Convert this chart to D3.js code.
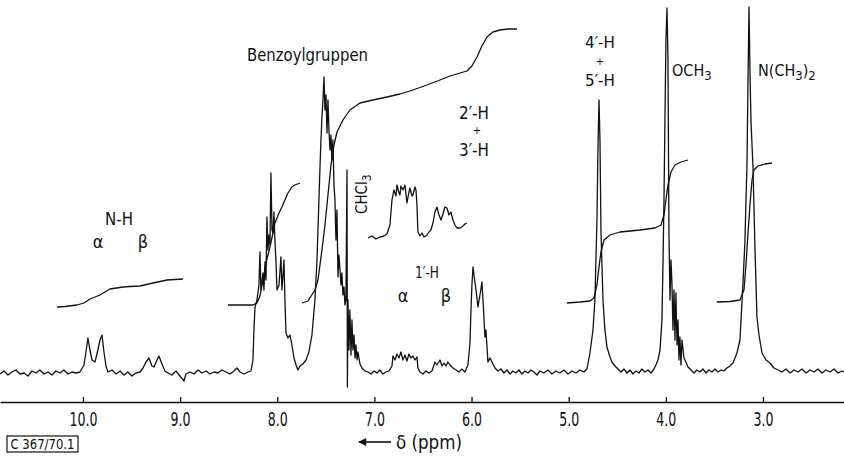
<!DOCTYPE html>
<html>
<head>
<meta charset="utf-8">
<script src="https://cdn.jsdelivr.net/npm/d3@7"></script>
<style>
  body { margin: 0; background: #fff; }
  svg { display: block; background: #fff; }
  text { font-family: "DejaVu Sans Condensed", "DejaVu Sans", sans-serif; font-stretch: condensed; fill: #111; }
</style>
</head>
<body>
<svg id="svg_nmr" width="844" height="457"></svg>
<script>
// chemical shift ticks (ppm)
const tickValues = [10, 9, 8, 7, 6, 5, 4, 3]

// main trace: [ppm, intensity]
const spectrum = [
  [10.854, 0.2], [10.813, 0.8], [10.772, 0], [10.731, 0.6], [10.690, 1.0], [10.649, 0.2], [10.607, 0.4],
  [10.566, -0.2], [10.525, 0.8], [10.484, 0.4], [10.443, 1.0], [10.401, 0.2], [10.360, 0.6], [10.319, 0],
  [10.278, 0.8], [10.237, 0.4], [10.196, 1.0], [10.154, 0.2], [10.113, 0.6], [10.072, 0.4], [10.031, 0.6],
  [9.990, 2.0], [9.969, 4.6], [9.949, 7.4], [9.928, 5.0], [9.907, 3.0], [9.876, 2.6], [9.846, 5.0],
  [9.825, 7.0], [9.804, 8.0], [9.784, 4.6], [9.763, 1.8], [9.743, 0.6], [9.701, 1.0], [9.660, 0.2],
  [9.619, 0.8], [9.578, 0], [9.537, 0.6], [9.496, -0.2], [9.454, 0.4], [9.413, 0.6], [9.382, 1.4],
  [9.351, 2.6], [9.321, 3.4], [9.290, 1.8], [9.269, 1.6], [9.238, 3.0], [9.218, 3.8], [9.187, 2.2],
  [9.156, 0.8], [9.125, 0.4], [9.084, 0], [9.043, 0.8], [9.002, -0.2], [8.960, -1.2], [8.940, 0.2],
  [8.899, 0.6], [8.857, 0.2], [8.816, 1.0], [8.775, 0.4], [8.734, 0.8], [8.693, 0.2], [8.652, 0.6],
  [8.610, 0.4], [8.569, 1.0], [8.528, 0.6], [8.487, 0.2], [8.446, 0.8], [8.415, 1.4], [8.384, 0.6],
  [8.343, 0.2], [8.302, 0.6], [8.271, 0.8], [8.250, 3.0], [8.240, 9.0], [8.229, 13.6], [8.209, 15.0],
  [8.188, 18.0], [8.178, 24.6], [8.168, 17.0], [8.147, 20.4], [8.137, 17.0], [8.126, 22.6], [8.116, 19.0],
  [8.106, 31.6], [8.096, 25.0], [8.085, 28.0], [8.075, 26.0], [8.065, 40.4], [8.054, 29.0], [8.044, 28.4],
  [8.034, 32.6], [8.024, 27.0], [8.013, 22.6], [8.003, 17.0], [7.982, 18.0], [7.962, 23.6], [7.952, 17.0],
  [7.941, 20.0], [7.931, 23.0], [7.921, 15.0], [7.910, 8.4], [7.890, 7.4], [7.869, 8.0], [7.849, 6.0],
  [7.828, 3.4], [7.807, 2.0], [7.787, 1.0], [7.766, 1.8], [7.735, 2.2], [7.704, 3.0], [7.674, 4.6],
  [7.643, 8.0], [7.612, 15.0], [7.591, 23.0], [7.571, 35.0], [7.560, 41.6], [7.550, 47.0], [7.540, 51.6],
  [7.529, 55.0], [7.519, 59.6], [7.509, 53.0], [7.499, 56.0], [7.488, 48.4], [7.478, 55.0], [7.468, 49.0],
  [7.457, 45.0], [7.447, 48.0], [7.437, 43.0], [7.427, 47.0], [7.416, 38.0], [7.406, 35.0], [7.396, 27.0],
  [7.385, 33.0], [7.375, 19.6], [7.365, 24.0], [7.354, 21.0], [7.344, 18.0], [7.334, 20.4], [7.324, 16.0],
  [7.313, 17.6], [7.303, 14.0], [7.293, 15.0], [7.282, 41.0], [7.278, -2.4], [7.272, 15.0], [7.262, 5.0],
  [7.252, 13.0], [7.241, 4.0], [7.231, 11.0], [7.221, 5.0], [7.210, 8.0], [7.200, 3.4], [7.190, 6.0],
  [7.179, 3.0], [7.169, 4.6], [7.149, 2.2], [7.128, 1.4], [7.097, 0.8], [7.066, 0.6], [7.035, 0.2],
  [7.004, 0.8], [6.974, 0.4], [6.943, 1.0], [6.912, 0.2], [6.881, 0.6], [6.850, 0.8], [6.819, 1.8],
  [6.809, 3.8], [6.788, 3.0], [6.768, 4.2], [6.747, 3.4], [6.727, 4.6], [6.706, 3.0], [6.685, 4.0],
  [6.665, 2.8], [6.644, 4.2], [6.624, 3.4], [6.603, 3.8], [6.582, 3.0], [6.562, 3.6], [6.552, 1.4],
  [6.531, 0.6], [6.500, 0.2], [6.469, 0.8], [6.438, 0.4], [6.407, 0.8], [6.377, 2.6], [6.356, 2.0],
  [6.325, 3.0], [6.304, 1.8], [6.284, 2.4], [6.263, 1.8], [6.243, 2.6], [6.222, 2.0], [6.191, 1.4],
  [6.160, 1.0], [6.129, 0.6], [6.099, 1.2], [6.068, 0.6], [6.037, 2.0], [6.016, 6.4], [6.006, 13.0],
  [5.996, 18.0], [5.985, 21.6], [5.975, 20.0], [5.954, 17.0], [5.934, 13.6], [5.913, 16.0], [5.893, 18.6],
  [5.882, 15.0], [5.862, 7.6], [5.852, 9.0], [5.831, 2.6], [5.810, 3.4], [5.790, 2.6], [5.759, 1.4],
  [5.728, 0.8], [5.697, 1.2], [5.666, 0.4], [5.635, 1.0], [5.604, 0.2], [5.574, 0.8], [5.543, 0.4],
  [5.512, 1.0], [5.481, 0.2], [5.450, 0.8], [5.419, 0.4], [5.388, 1.0], [5.357, 0.6], [5.326, 0],
  [5.296, 0.8], [5.255, 0.4], [5.213, 1.0], [5.172, 0.2], [5.131, 0.8], [5.090, 0.4], [5.049, 1.0],
  [5.007, 0.2], [4.966, 0.8], [4.925, 0.4], [4.884, 1.0], [4.843, 0.6], [4.812, 1.2], [4.781, 4.4],
  [4.750, 9.0], [4.730, 15.0], [4.709, 31.0], [4.699, 45.0], [4.688, 55.0], [4.678, 47.0], [4.668, 29.0],
  [4.647, 15.0], [4.627, 9.0], [4.606, 5.6], [4.575, 3.6], [4.555, 2.6], [4.524, 1.8], [4.493, 1.2],
  [4.462, 0.6], [4.431, 1.2], [4.400, 0.4], [4.369, 1.0], [4.338, 0.2], [4.307, 0.8], [4.277, 0.4],
  [4.246, 1.2], [4.215, 0.6], [4.184, 1.0], [4.153, 0.4], [4.122, 1.2], [4.102, 2.0], [4.081, 3.0],
  [4.060, 5.0], [4.040, 11.0], [4.030, 21.6], [4.019, 35.0], [4.009, 51.0], [3.999, 67.0], [3.988, 73.4],
  [3.978, 63.0], [3.968, 28.4], [3.957, 15.0], [3.947, 23.0], [3.937, 18.4], [3.927, 9.0], [3.916, 17.0],
  [3.906, 7.0], [3.896, 16.4], [3.885, 6.0], [3.875, 11.0], [3.865, 3.0], [3.855, 7.6], [3.844, 2.0],
  [3.834, 7.0], [3.813, 3.4], [3.793, 2.6], [3.772, 1.6], [3.741, 1.0], [3.710, 0.4], [3.680, 1.0],
  [3.649, 0.6], [3.618, 1.2], [3.587, 0.4], [3.556, 1.0], [3.525, 0.6], [3.494, 1.2], [3.463, 0.6],
  [3.432, 1.0], [3.402, 0.8], [3.371, 1.4], [3.340, 1.8], [3.309, 2.4], [3.288, 3.4], [3.268, 4.4],
  [3.237, 7.0], [3.206, 18.4], [3.185, 27.0], [3.175, 35.0], [3.165, 41.6], [3.154, 59.0], [3.144, 73.6],
  [3.134, 61.0], [3.124, 51.0], [3.103, 41.6], [3.082, 25.0], [3.062, 11.6], [3.041, 8.0], [3.010, 4.4],
  [2.969, 3.0], [2.928, 2.4], [2.887, 1.4], [2.846, 1.0], [2.805, 0.6], [2.763, 1.2], [2.722, 0.4],
  [2.681, 1.0], [2.640, 0.6], [2.599, 1.2], [2.557, 0.4], [2.516, 1.0], [2.475, 0.6], [2.434, 1.2],
  [2.393, 0.4], [2.352, 1.0], [2.310, 0.6], [2.269, 1.2], [2.228, 0.4], [2.187, 0.8], [2.166, 0.6]
]

// integral traces
const integralNH = [
  [10.268, 13.6], [10.185, 13.7], [10.062, 14.0], [9.990, 14.4], [9.928, 15.2], [9.876, 15.6], [9.825, 16.0],
  [9.774, 16.6], [9.722, 17.2], [9.588, 17.6], [9.516, 17.7], [9.413, 17.8], [9.279, 18.4], [9.207, 18.7],
  [9.135, 19.0], [9.053, 19.1], [8.971, 19.2]
]
const integralArom1 = [
  [8.507, 14.0], [8.384, 14.0], [8.250, 14.0], [8.209, 14.4], [8.178, 15.8], [8.147, 19.0], [8.116, 22.4],
  [8.075, 25.6], [8.044, 28.4], [8.024, 30.4], [7.982, 32.4], [7.952, 33.6], [7.921, 35.0], [7.890, 36.4],
  [7.849, 37.6], [7.818, 38.0], [7.766, 38.4]
]
const integralArom2 = [
  [7.746, 14.4], [7.684, 14.8], [7.612, 17.0], [7.581, 19.0], [7.540, 25.0], [7.509, 30.0], [7.478, 36.0],
  [7.447, 42.0], [7.416, 46.0], [7.385, 48.6], [7.324, 51.0], [7.252, 53.0], [7.149, 54.4], [7.015, 55.0],
  [6.871, 55.6], [6.737, 56.2], [6.603, 57.0], [6.459, 58.0], [6.325, 59.0], [6.222, 59.8], [6.119, 60.4],
  [6.047, 60.8], [5.996, 61.8], [5.944, 63.6], [5.893, 65.8], [5.841, 67.6], [5.780, 68.6], [5.707, 69.0],
  [5.625, 69.2], [5.532, 69.2]
]
const integralOCH3 = [
  [5.018, 14.4], [4.884, 14.6], [4.781, 14.8], [4.740, 15.4], [4.709, 18.0], [4.688, 21.6], [4.668, 24.6],
  [4.637, 27.0], [4.575, 28.0], [4.472, 28.6], [4.266, 29.0], [4.112, 29.4], [4.050, 30.0], [4.019, 32.0],
  [3.999, 35.0], [3.978, 38.0], [3.947, 40.6], [3.906, 42.0], [3.844, 42.6], [3.772, 43.0]
]
const integralNMe2 = [
  [3.474, 14.6], [3.340, 14.7], [3.237, 15.0], [3.196, 17.0], [3.175, 22.0], [3.154, 28.4], [3.134, 34.0],
  [3.113, 39.0], [3.093, 41.0], [3.052, 41.8], [2.980, 42.2], [2.907, 42.4]
]

// expanded 1'-H region (inset)
const inset1H = [
  [7.066, 27.4], [7.025, 27.8], [6.984, 27.2], [6.943, 27.6], [6.902, 27.8], [6.871, 28.2], [6.840, 30.0],
  [6.819, 35.0], [6.799, 37.0], [6.778, 35.8], [6.768, 38.0], [6.747, 36.4], [6.737, 36.0], [6.727, 37.8],
  [6.706, 37.0], [6.685, 38.0], [6.665, 34.4], [6.644, 36.6], [6.634, 37.4], [6.613, 35.8], [6.603, 36.0],
  [6.582, 37.6], [6.572, 37.0], [6.562, 34.0], [6.552, 28.6], [6.531, 27.8], [6.510, 28.4], [6.490, 27.6],
  [6.459, 28.0], [6.438, 28.6], [6.418, 29.0], [6.397, 30.4], [6.377, 32.6], [6.356, 33.6], [6.335, 32.0],
  [6.315, 31.0], [6.294, 32.2], [6.274, 33.6], [6.253, 33.4], [6.232, 32.0], [6.212, 32.6], [6.191, 31.0],
  [6.171, 30.0], [6.150, 29.4], [6.119, 29.4], [6.088, 29.8], [6.068, 30.2], [6.047, 30.4]
]

function drawChart() {
  const svg = d3.select('#svg_nmr')
  const width = 844

  const xScale = d3.scaleLinear()
    .domain([10.854, 2.166])
    .range([0, width])

  const yScale = d3.scaleLinear()
    .domain([0, 75])
    .range([375, 0])

  const line = d3.line()
    .x(d => xScale(d[0]))
    .y(d => yScale(d[1]))

  const traces = [spectrum, integralNH, integralArom1, integralArom2, integralOCH3, integralNMe2, inset1H]

  svg.append('g')
    .selectAll('path')
    .data(traces)
    .enter()
    .append('path')
    .attr('d', line)
    .attr('fill', 'none')
    .attr('stroke', '#111')
    .attr('stroke-width', 1.3)
    .attr('stroke-linejoin', 'round')

  // ppm axis, ticks pointing up
  const bottomAxis = d3.axisBottom(xScale)
    .tickValues(tickValues)
    .tickFormat(d3.format('.1f'))
    .tickSizeInner(-5)
    .tickSizeOuter(0)
    .tickPadding(11)

  const axisG = svg.append('g')
    .attr('transform', 'translate(0, 402)')
    .call(bottomAxis)
  axisG.select('.domain').attr('stroke', '#111').attr('stroke-width', 1.6)
  axisG.selectAll('.tick line').attr('stroke', '#111').attr('stroke-width', 1.3)
  axisG.selectAll('.tick text')
    .attr('font-family', '"DejaVu Sans Condensed", "DejaVu Sans", sans-serif')
    .attr('font-size', 19)
    .attr('fill', '#111')
    .attr('textLength', d => d >= 10 ? 28 : 20)
    .attr('lengthAdjust', 'spacingAndGlyphs')

  // annotations
  const label = (x, y, txt, size, anchor, len) => {
    const t = svg.append('text')
      .attr('x', x).attr('y', y)
      .attr('font-size', size)
      .attr('text-anchor', anchor || 'middle')
      .text(txt)
    if (len) t.attr('textLength', len).attr('lengthAdjust', 'spacingAndGlyphs')
    return t
  }

  label(247, 61, 'Benzoylgruppen', 17, 'start', 121)
  label(119, 225, 'N-H', 17, 'middle', 28)
  label(98, 248, 'α', 18)
  label(143, 248, 'β', 18)

  label(474, 119, '2′-H', 17, 'middle', 30)
  label(477, 134, '+', 11)
  label(474, 156, '3′-H', 17, 'middle', 30)

  label(427, 278, '1′-H', 15, 'middle', 24)
  label(403, 302, 'α', 18)
  label(446, 302, 'β', 18)

  label(600, 48, '4′-H', 15, 'middle', 30)
  label(600, 65, '+', 11)
  label(600, 86, '5′-H', 15, 'middle', 30)

  const och3 = label(672, 76, 'OCH', 16, 'start')
  och3.append('tspan').attr('dy', 4).attr('font-size', 13).text('3')

  const nme2 = label(758, 76, 'N(CH', 16, 'start')
  nme2.append('tspan').attr('dy', 4).attr('font-size', 13).text('3')
  nme2.append('tspan').attr('dy', -4).text(')')
  nme2.append('tspan').attr('dy', 4).attr('font-size', 13).text('2')

  const chcl3 = svg.append('text')
    .attr('transform', 'translate(367, 214) rotate(-90)')
    .attr('font-size', 15)
    .text('CHCl')
  chcl3.append('tspan').attr('dy', 4).attr('font-size', 12).text('3')

  // axis title with arrow pointing to lower field
  svg.append('defs').append('marker')
    .attr('id', 'arrowhead')
    .attr('viewBox', '0 0 10 10')
    .attr('refX', 9).attr('refY', 5)
    .attr('markerWidth', 7).attr('markerHeight', 5)
    .attr('orient', 'auto')
    .append('path')
    .attr('d', 'M0,0 L10,5 L0,10 z')
    .attr('fill', '#111')
  svg.append('line')
    .attr('x1', 391).attr('y1', 442)
    .attr('x2', 359).attr('y2', 442)
    .attr('stroke', '#111')
    .attr('stroke-width', 1.6)
    .attr('marker-end', 'url(#arrowhead)')
  label(396, 449, 'δ (ppm)', 19, 'start', 66)

  // plate number box
  svg.append('rect')
    .attr('x', 7).attr('y', 436)
    .attr('width', 71).attr('height', 16)
    .attr('fill', 'none')
    .attr('stroke', '#111')
    .attr('stroke-width', 1.2)
  label(42.5, 449, 'C 367/70.1', 14, 'middle', 64)
}

drawChart()
</script>
</body>
</html>
